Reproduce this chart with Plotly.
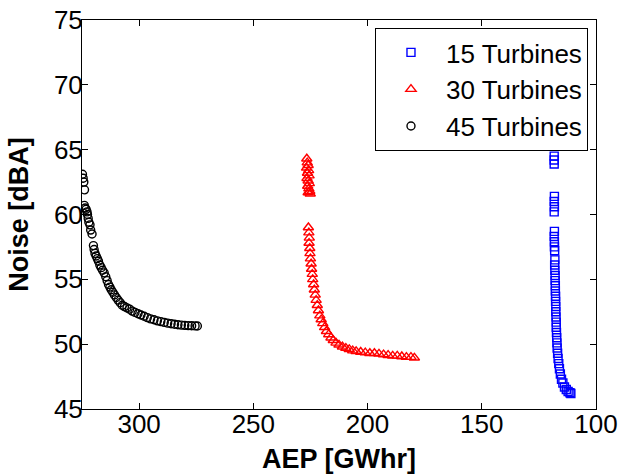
import plotly.graph_objects as go

# 15 Turbines (blue squares)
aep_15 = [118.3, 118.3, 118.3,
          118.2, 118.3, 118.2, 118.3,
          118.2, 118.3, 118.2, 118.2, 118.1,
          118.0, 118.1, 118.0, 117.9, 117.9, 117.8, 117.8, 117.7, 117.7, 117.6,
          117.6, 117.5, 117.4, 117.4, 117.3, 117.2, 117.1, 117.0, 116.8, 116.6,
          116.3, 116.0, 115.6, 115.1, 114.5, 113.8, 113.0, 112.2, 111.4, 111.0]
noise_15 = [64.5, 64.2, 63.9,
            61.4, 61.0, 60.6, 60.2,
            58.7, 58.3, 57.9, 57.5, 57.2,
            56.5, 56.1, 55.7, 55.3, 54.9, 54.5, 54.1, 53.7, 53.3, 52.9,
            52.5, 52.1, 51.7, 51.3, 50.9, 50.5, 50.1, 49.7, 49.3, 48.9,
            48.5, 48.1, 47.7, 47.3, 47.0, 46.7, 46.5, 46.35, 46.25, 46.2]

# 30 Turbines (red triangles)
aep_30 = [226.6, 226.4, 226.0, 226.7, 225.8, 226.3, 225.6, 226.5, 226.0, 225.5,
          226.2, 225.7, 225.3, 226.0, 225.1,
          225.9, 225.7, 225.5, 225.6, 225.3, 225.2, 225.0, 224.7, 224.5, 224.2,
          224.0, 223.6, 223.3, 222.9, 222.5, 222.0, 221.5, 220.9, 220.3, 219.6,
          218.8, 218.0, 217.0, 216.0, 215.0, 213.8, 212.5, 211.0, 209.5, 208.0,
          206.5, 205.0, 203.0, 201.0, 199.0, 197.0, 195.0, 193.0, 191.0, 189.0,
          187.0, 185.0, 183.0, 181.0, 179.5]
noise_30 = [64.3, 64.0, 63.8, 63.6, 63.4, 63.2, 63.0, 62.8, 62.6, 62.4,
            62.2, 62.0, 61.8, 61.7, 61.6,
            59.0, 58.6, 58.2, 57.8, 57.4, 57.0, 56.6, 56.2, 55.8, 55.4,
            55.0, 54.6, 54.2, 53.8, 53.4, 53.0, 52.6, 52.2, 51.9, 51.6,
            51.3, 51.0, 50.75, 50.5, 50.3, 50.1, 49.95, 49.8, 49.7, 49.6,
            49.5, 49.45, 49.4, 49.35, 49.3, 49.3, 49.25, 49.2, 49.15, 49.1,
            49.1, 49.05, 49.0, 49.0, 48.95]

# 45 Turbines (black circles)
aep_45 = [324.8, 324.5, 324.2, 323.9, 324.0, 323.6, 323.2, 322.8, 322.6, 322.3,
          322.0, 321.5, 321.2, 320.6,
          320.0, 319.7, 319.3, 318.8, 318.3, 317.8, 317.2, 316.6, 316.0, 315.3,
          314.6, 314.0, 313.4, 312.8, 312.2, 311.5, 310.8, 310.0, 309.2, 308.3,
          307.4, 306.4, 305.3, 304.2, 303.0, 301.8, 300.5, 299.2, 297.8, 296.4,
          295.0, 293.5, 292.0, 290.5, 289.0, 287.5, 286.0, 284.5, 283.0, 281.5,
          280.0, 278.5, 277.0, 275.5, 274.5]
noise_45 = [63.1, 62.8, 62.5, 61.9, 60.7, 60.5, 60.4, 60.2, 60.0, 59.7,
            59.4, 59.2, 58.8, 58.5,
            57.6, 57.3, 57.0, 56.8, 56.6, 56.4, 56.1, 55.9, 55.7, 55.5,
            55.2, 54.9, 54.6, 54.4, 54.2, 54.0, 53.8, 53.6, 53.4, 53.2,
            53.0, 52.9, 52.8, 52.7, 52.55, 52.45, 52.35, 52.25, 52.15, 52.05,
            51.95, 51.88, 51.8, 51.74, 51.68, 51.62, 51.58, 51.54, 51.5, 51.47,
            51.45, 51.43, 51.42, 51.41, 51.4]

x_ticks = [300, 250, 200, 150, 100]
y_ticks = [45, 50, 55, 60, 65, 70, 75]

FONT = "Liberation Sans, Arial, sans-serif"

fig = go.Figure()
fig.add_trace(go.Scatter(x=aep_15, y=noise_15, mode="markers", name="15 Turbines",
                         marker=dict(symbol="square-open", size=8, color="#0000ff",
                                     line=dict(width=1.4))))
fig.add_trace(go.Scatter(x=aep_30, y=noise_30, mode="markers", name="30 Turbines",
                         marker=dict(symbol="triangle-up-open", size=9, color="#ff0000",
                                     line=dict(width=1.4))))
fig.add_trace(go.Scatter(x=aep_45, y=noise_45, mode="markers", name="45 Turbines",
                         marker=dict(symbol="circle-open", size=8, color="#000000",
                                     line=dict(width=1.4))))

axis_common = dict(showgrid=False, zeroline=False, showline=True, linecolor="black",
                   linewidth=1, mirror="ticks", ticks="inside", ticklen=6,
                   tickcolor="black", automargin=False,
                   tickfont=dict(family=FONT, size=26, color="black"))

fig.update_layout(
    width=618, height=474,
    margin=dict(l=82, r=22, t=20, b=65),
    paper_bgcolor="white", plot_bgcolor="white",
    font=dict(family=FONT, color="black"),
    xaxis=dict(range=[325, 100], tickvals=x_ticks, ticklabelstandoff=-8,
               title=dict(text="<b>AEP [GWhr]</b>", font=dict(family=FONT, size=27), standoff=10),
               **axis_common),
    yaxis=dict(range=[45, 75], tickvals=y_ticks, ticklabelstandoff=-7,
               title=dict(text="<b>Noise [dBA]</b>", font=dict(family=FONT, size=27), standoff=17),
               **axis_common),
    legend=dict(x=0.9844, y=0.9795, xanchor="right", yanchor="top",
                bordercolor="black", borderwidth=1, bgcolor="white",
                font=dict(family=FONT, size=26), itemwidth=60, tracegroupgap=0),
    showlegend=True,
)

fig.write_html("out.html", config={"displayModeBar": False},
               post_script="document.body.style.margin='0';document.body.style.overflow='hidden';")
